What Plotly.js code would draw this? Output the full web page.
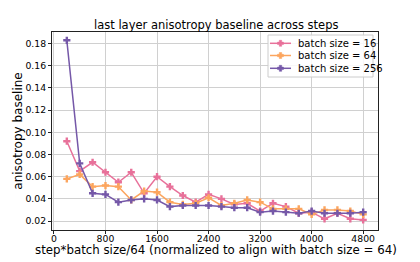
<!DOCTYPE html>
<html>
<head>
<meta charset="utf-8">
<script src="https://cdn.plot.ly/plotly-3.0.1.min.js"></script>
<style>html,body{margin:0;padding:0;background:#fff;}#chart{width:420px;height:262px;}</style>
</head>
<body>
<div id="chart"></div>
<script>
const steps = [200,400,600,800,1000,1200,1400,1600,1800,2000,2200,2400,2600,2800,3000,3200,3400,3600,3800,4000,4200,4400,4600,4800];
const bs16  = [0.092,0.065,0.073,0.064,0.055,0.064,0.045,0.060,0.051,0.043,0.037,0.044,0.040,0.035,0.036,0.029,0.036,0.033,0.027,0.028,0.022,0.027,0.022,0.021];
const bs64  = [0.058,0.062,0.051,0.052,0.051,0.039,0.047,0.046,0.037,0.035,0.036,0.041,0.034,0.036,0.039,0.037,0.031,0.031,0.031,0.026,0.030,0.030,0.029,0.026];
const bs256 = [0.183,0.072,0.045,0.044,0.037,0.039,0.040,0.039,0.033,0.034,0.034,0.034,0.033,0.032,0.032,0.028,0.029,0.028,0.027,0.029,0.027,0.027,0.027,0.028];
const seriesNames = ["batch size = 16","batch size = 64","batch size = 256"];
const seriesData = [bs16, bs64, bs256];
const colors = ["#e8719a","#fca55e","#7558a8"];
const xTicks = [0,800,1600,2400,3200,4000,4800];
const yTicks = [0.02,0.04,0.06,0.08,0.10,0.12,0.14,0.16,0.18];

const font = "DejaVu Sans, sans-serif";
// plot area in pixels
const M = {l:52, r:42, t:32, b:32}, W = 420, H = 262;
const pw = W - M.l - M.r, ph = H - M.t - M.b;
const px = x => (x - M.l) / pw;
const py = y => (H - M.b - y) / ph;

const traces = seriesData.map((d,i)=>({
  x: steps, y: d, name: seriesNames[i], type:'scatter', mode:'lines+markers',
  line:{color:colors[i], width:1.5},
  marker:{color:colors[i], symbol:'cross', size:6},
  showlegend:false
}));

// custom compact legend (matplotlib style)
const shapes = [{type:'rect', xref:'paper', yref:'paper', x0:px(268), x1:px(373), y0:py(77), y1:py(35),
  fillcolor:'rgba(255,255,255,0.85)', line:{color:'#cccccc', width:1}, layer:'above'}];
const annotations = [];
const rowsY = [43.3, 55.5, 68.3];
seriesNames.forEach((n,i)=>{
  const yy = rowsY[i];
  shapes.push({type:'line', xref:'paper', yref:'paper', x0:px(270), x1:px(291), y0:py(yy), y1:py(yy), line:{color:colors[i], width:1.5}, layer:'above'});
  const c = 280.5, a = 3, b = 1.2;
  const pts = [[c-b,yy-a],[c+b,yy-a],[c+b,yy-b],[c+a,yy-b],[c+a,yy+b],[c+b,yy+b],[c+b,yy+a],[c-b,yy+a],[c-b,yy+b],[c-a,yy+b],[c-a,yy-b],[c-b,yy-b]];
  const path = 'M' + pts.map(p=>px(p[0]).toFixed(5)+','+py(p[1]).toFixed(5)).join(' L') + ' Z';
  shapes.push({type:'path', xref:'paper', yref:'paper', path:path, fillcolor:colors[i], line:{color:colors[i], width:0.5}, layer:'above'});
  annotations.push({xref:'paper', yref:'paper', x:px(296), y:py(yy), xanchor:'left', yanchor:'middle', text:n, showarrow:false,
    font:{family:font, size:10, color:'#000'}});
});
annotations.push({xref:'paper', yref:'paper', x:px(215.5), y:py(250), xanchor:'center', yanchor:'middle',
  text:'step*batch size/64 (normalized to align with batch size = 64)', showarrow:false, font:{family:font, size:11.8, color:'#000'}});
annotations.push({xref:'paper', yref:'paper', x:px(215.5), y:py(24.5), xanchor:'center', yanchor:'middle',
  text:'last layer anisotropy baseline across steps', showarrow:false, font:{family:font, size:11.5, color:'#000'}});

const layout = {
  width:W, height:H,
  margin:{l:M.l, r:M.r, t:M.t, b:M.b, autoexpand:false},
  paper_bgcolor:'#fff', plot_bgcolor:'#fff',
  font:{family:font, size:10, color:'#000'},
  xaxis:{range:[-30,5030], tickvals:xTicks, ticktext:xTicks.map(String), showgrid:true, gridcolor:'#d0d0d0', gridwidth:1,
    zeroline:false, showline:true, linecolor:'#222', linewidth:1, mirror:true, ticks:'outside', ticklen:3, tickcolor:'#222',
    tickfont:{family:font, size:9.3}, automargin:false, ticklabelstandoff:-3},
  yaxis:{range:[0.0119,0.1905], tickvals:yTicks, ticktext:yTicks.map(v=>v.toFixed(2)), showgrid:true, gridcolor:'#d0d0d0', gridwidth:1,
    zeroline:false, showline:true, linecolor:'#222', linewidth:1, mirror:true, ticks:'outside', ticklen:3, tickcolor:'#222',
    tickfont:{family:font, size:9.3}, automargin:false,
    title:{text:'anisotropy baseline', font:{family:font, size:12}, standoff:0}},
  shapes: shapes,
  annotations: annotations,
  showlegend:false
};
Plotly.newPlot('chart', traces, layout, {staticPlot:true, displayModeBar:false});
</script>
</body>
</html>
